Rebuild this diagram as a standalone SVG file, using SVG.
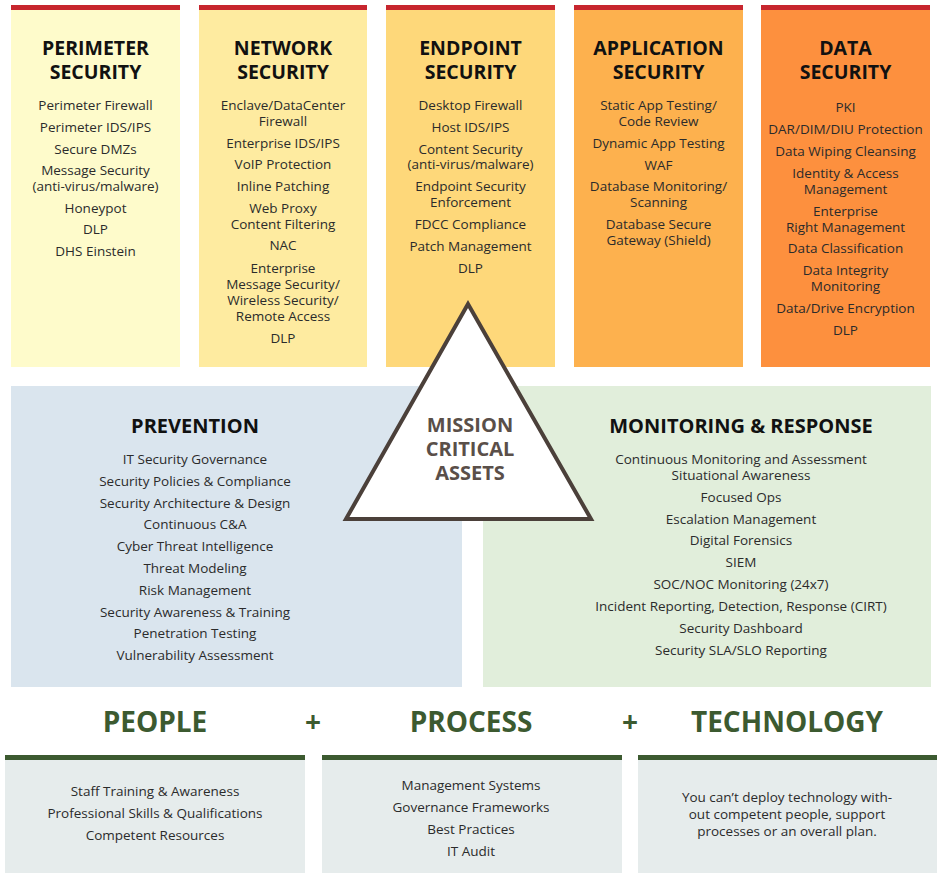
<svg xmlns="http://www.w3.org/2000/svg" width="937" height="873" viewBox="0 0 937 873">
<style>
text{font-family:"Open Sans","Liberation Sans",sans-serif;text-anchor:middle}
.t{font-size:19.5px;font-weight:bold;fill:#111}
.i{font-size:13.5px;fill:#2b2b2b}
.h{font-size:20px;font-weight:bold;fill:#111}
.m{font-size:20px;font-weight:bold;fill:#5a4f49}
.b{font-size:28px;font-weight:bold;fill:#3c5a30}
.red{fill:#c7262e}
.gb{fill:#3c5a30}
.bx{fill:#e6ecec}
</style>
<rect width="937" height="873" fill="#ffffff"/>
<g id="perimeter">
<rect x="11" y="5" width="169" height="362" fill="#fefbcb"/>
<rect class="red" x="11" y="5" width="169" height="5"/>
<text class="t" x="95.5" y="55">PERIMETER</text>
<text class="t" x="95.5" y="79">SECURITY</text>
<text class="i" x="95.5" y="110">Perimeter Firewall</text>
<text class="i" x="95.5" y="132">Perimeter IDS/IPS</text>
<text class="i" x="95.5" y="154">Secure DMZs</text>
<text class="i" x="95.5" y="175">Message Security</text>
<text class="i" x="95.5" y="191">(anti-virus/malware)</text>
<text class="i" x="95.5" y="213">Honeypot</text>
<text class="i" x="95.5" y="234">DLP</text>
<text class="i" x="95.5" y="256">DHS Einstein</text>
</g>
<g id="network">
<rect x="199" y="5" width="168" height="362" fill="#feeba0"/>
<rect class="red" x="199" y="5" width="168" height="5"/>
<text class="t" x="283" y="55">NETWORK</text>
<text class="t" x="283" y="79">SECURITY</text>
<text class="i" x="283" y="110">Enclave/DataCenter</text>
<text class="i" x="283" y="126">Firewall</text>
<text class="i" x="283" y="148">Enterprise IDS/IPS</text>
<text class="i" x="283" y="169">VoIP Protection</text>
<text class="i" x="283" y="191">Inline Patching</text>
<text class="i" x="283" y="213">Web Proxy</text>
<text class="i" x="283" y="229">Content Filtering</text>
<text class="i" x="283" y="250">NAC</text>
<text class="i" x="283" y="273">Enterprise</text>
<text class="i" x="283" y="289">Message Security/</text>
<text class="i" x="283" y="305">Wireless Security/</text>
<text class="i" x="283" y="321">Remote Access</text>
<text class="i" x="283" y="343">DLP</text>
</g>
<g id="endpoint">
<rect x="386" y="5" width="169" height="362" fill="#fed87a"/>
<rect class="red" x="386" y="5" width="169" height="5"/>
<text class="t" x="470.5" y="55">ENDPOINT</text>
<text class="t" x="470.5" y="79">SECURITY</text>
<text class="i" x="470.5" y="110">Desktop Firewall</text>
<text class="i" x="470.5" y="132">Host IDS/IPS</text>
<text class="i" x="470.5" y="154">Content Security</text>
<text class="i" x="470.5" y="169">(anti-virus/malware)</text>
<text class="i" x="470.5" y="191">Endpoint Security</text>
<text class="i" x="470.5" y="207">Enforcement</text>
<text class="i" x="470.5" y="229">FDCC Compliance</text>
<text class="i" x="470.5" y="251">Patch Management</text>
<text class="i" x="470.5" y="273">DLP</text>
</g>
<g id="application">
<rect x="574" y="5" width="169" height="362" fill="#fdb14e"/>
<rect class="red" x="574" y="5" width="169" height="5"/>
<text class="t" x="658.5" y="55">APPLICATION</text>
<text class="t" x="658.5" y="79">SECURITY</text>
<text class="i" x="658.5" y="110">Static App Testing/</text>
<text class="i" x="658.5" y="126">Code Review</text>
<text class="i" x="658.5" y="148">Dynamic App Testing</text>
<text class="i" x="658.5" y="170">WAF</text>
<text class="i" x="658.5" y="191">Database Monitoring/</text>
<text class="i" x="658.5" y="207">Scanning</text>
<text class="i" x="658.5" y="229">Database Secure</text>
<text class="i" x="658.5" y="245">Gateway (Shield)</text>
</g>
<g id="data">
<rect x="761" y="5" width="169" height="362" fill="#fd903e"/>
<rect class="red" x="761" y="5" width="169" height="5"/>
<text class="t" x="845.5" y="55">DATA</text>
<text class="t" x="845.5" y="79">SECURITY</text>
<text class="i" x="845.5" y="112">PKI</text>
<text class="i" x="845.5" y="134">DAR/DIM/DIU Protection</text>
<text class="i" x="845.5" y="156">Data Wiping Cleansing</text>
<text class="i" x="845.5" y="178">Identity &amp; Access</text>
<text class="i" x="845.5" y="194">Management</text>
<text class="i" x="845.5" y="216">Enterprise</text>
<text class="i" x="845.5" y="232">Right Management</text>
<text class="i" x="845.5" y="253">Data Classification</text>
<text class="i" x="845.5" y="275">Data Integrity</text>
<text class="i" x="845.5" y="291">Monitoring</text>
<text class="i" x="845.5" y="313">Data/Drive Encryption</text>
<text class="i" x="845.5" y="335">DLP</text>
</g>
<g id="prevention">
<rect x="11" y="386" width="451" height="301" fill="#dae5ee"/>
<text class="h" x="195" y="433">PREVENTION</text>
<text class="i" x="195" y="464">IT Security Governance</text>
<text class="i" x="195" y="486">Security Policies &amp; Compliance</text>
<text class="i" x="195" y="508">Security Architecture &amp; Design</text>
<text class="i" x="195" y="529">Continuous C&amp;A</text>
<text class="i" x="195" y="551">Cyber Threat Intelligence</text>
<text class="i" x="195" y="573">Threat Modeling</text>
<text class="i" x="195" y="595">Risk Management</text>
<text class="i" x="195" y="617">Security Awareness &amp; Training</text>
<text class="i" x="195" y="638">Penetration Testing</text>
<text class="i" x="195" y="660">Vulnerability Assessment</text>
</g>
<g id="monitoring">
<rect x="483" y="386" width="448" height="301" fill="#e1eedb"/>
<text class="h" x="741" y="433">MONITORING &amp; RESPONSE</text>
<text class="i" x="741" y="464">Continuous Monitoring and Assessment</text>
<text class="i" x="741" y="480">Situational Awareness</text>
<text class="i" x="741" y="502">Focused Ops</text>
<text class="i" x="741" y="524">Escalation Management</text>
<text class="i" x="741" y="545">Digital Forensics</text>
<text class="i" x="741" y="567">SIEM</text>
<text class="i" x="741" y="589">SOC/NOC Monitoring (24x7)</text>
<text class="i" x="741" y="611">Incident Reporting, Detection, Response (CIRT)</text>
<text class="i" x="741" y="633">Security Dashboard</text>
<text class="i" x="741" y="655">Security SLA/SLO Reporting</text>
</g>
<g id="mission">
<polygon points="468,304 346,519 591,519" fill="#ffffff" stroke="#4b403a" stroke-width="4" stroke-linejoin="miter"/>
<text class="m" x="470" y="432">MISSION</text>
<text class="m" x="470" y="456">CRITICAL</text>
<text class="m" x="470" y="480">ASSETS</text>
</g>
<g id="people">
<text class="b" x="155" y="732">PEOPLE</text>
<rect class="bx" x="5" y="755" width="300" height="118"/>
<rect class="gb" x="5" y="755" width="300" height="5"/>
<text class="i" x="155" y="796">Staff Training &amp; Awareness</text>
<text class="i" x="155" y="818">Professional Skills &amp; Qualifications</text>
<text class="i" x="155" y="840">Competent Resources</text>
</g>
<text class="b" x="313" y="732">+</text>
<g id="process">
<text class="b" x="471" y="732">PROCESS</text>
<rect class="bx" x="322" y="755" width="300" height="118"/>
<rect class="gb" x="322" y="755" width="300" height="5"/>
<text class="i" x="471" y="790">Management Systems</text>
<text class="i" x="471" y="812">Governance Frameworks</text>
<text class="i" x="471" y="834">Best Practices</text>
<text class="i" x="471" y="856">IT Audit</text>
</g>
<text class="b" x="630" y="732">+</text>
<g id="technology">
<text class="b" x="787" y="732">TECHNOLOGY</text>
<rect class="bx" x="638" y="755" width="299" height="118"/>
<rect class="gb" x="638" y="755" width="299" height="5"/>
<text class="i" x="787" y="802">You can’t deploy technology with-</text>
<text class="i" x="787" y="819">out competent people, support</text>
<text class="i" x="787" y="836">processes or an overall plan.</text>
</g>
<g id="connectors"></g>
</svg>
